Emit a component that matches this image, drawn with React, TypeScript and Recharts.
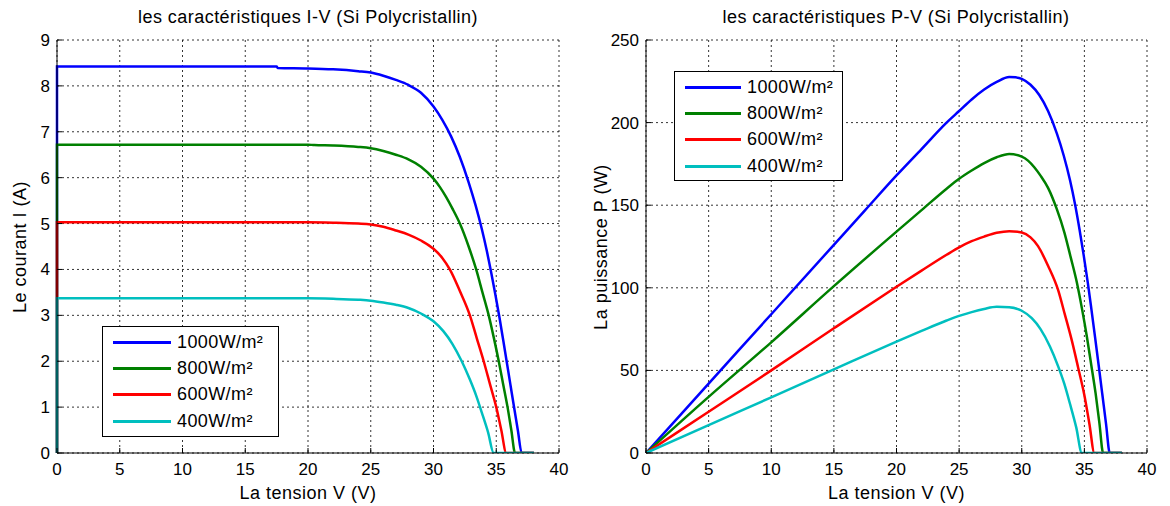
import React from "react";
import { LineChart, Line, XAxis, YAxis, CartesianGrid } from "recharts";

// irradiance levels (legend order)
const levels = ["1000W/m²", "800W/m²", "600W/m²", "400W/m²"];
const colors = ["#0000ff", "#008000", "#ff0000", "#00bfbf"];

const voltTicks = [0, 5, 10, 15, 20, 25, 30, 35, 40];
const currentTicks = [0, 1, 2, 3, 4, 5, 6, 7, 8, 9];
const powerTicks = [0, 50, 100, 150, 200, 250];

// I-V curves, [V, I]
const iv1000 = [
  [0, 0], [0, 8.42], [5, 8.42], [10, 8.42], [15, 8.42], [17.5, 8.42], [17.6, 8.39], [20, 8.38],
  [22, 8.36], [24, 8.32], [25, 8.29], [26, 8.22], [27, 8.13], [28, 8.02], [29, 7.85], [30, 7.55],
  [30.7, 7.26], [31.4, 6.9], [32.1, 6.45], [32.8, 5.9], [33.35, 5.4], [33.85, 4.88], [34.25, 4.4],
  [34.62, 3.9], [34.95, 3.42], [35.27, 2.93], [35.56, 2.45], [35.85, 1.96], [36.14, 1.47],
  [36.43, 0.98], [36.73, 0.48], [37.03, 0], [38, 0],
];
const iv800 = [
  [0, 0], [0, 6.72], [5, 6.72], [10, 6.72], [15, 6.72], [20, 6.72], [20.5, 6.71], [22, 6.7],
  [24, 6.67], [25, 6.64], [26, 6.58], [27, 6.5], [28, 6.4], [29, 6.24], [30, 5.98], [30.5, 5.8],
  [31, 5.58], [31.5, 5.33], [32.1, 5.0], [32.8, 4.5], [33.4, 4.0], [33.9, 3.5], [34.4, 3.0],
  [34.8, 2.52], [35.2, 2.0], [35.55, 1.5], [35.9, 1.0], [36.2, 0.5], [36.5, 0], [38, 0],
];
const iv600 = [
  [0, 0], [0, 5.03], [5, 5.03], [10, 5.03], [15, 5.03], [20, 5.03], [22, 5.02], [24, 5.0],
  [25, 4.98], [26, 4.93], [27, 4.85], [28, 4.76], [29, 4.63], [30, 4.45], [30.7, 4.25], [31.3, 4.0],
  [32.1, 3.53], [32.9, 3.0], [33.45, 2.5], [34, 2.0], [34.5, 1.5], [35, 1.0], [35.4, 0.5],
  [35.8, 0], [38, 0],
];
const iv400 = [
  [0, 0], [0, 3.37], [5, 3.37], [10, 3.37], [15, 3.37], [20, 3.37], [22, 3.36], [24, 3.34],
  [25, 3.32], [26, 3.28], [27, 3.23], [28, 3.16], [29, 3.04], [30, 2.87], [30.8, 2.65],
  [31.5, 2.38], [32.25, 2.0], [32.9, 1.6], [33.4, 1.25], [33.85, 0.88], [34.35, 0.45],
  [34.8, 0], [38, 0],
];

// P-V curves, [V, P]
const pv1000 = [
  [0, 0], [5, 42], [10, 84], [15, 126], [17.5, 147], [20, 168], [22, 184], [24, 200], [25, 207],
  [26, 214], [27, 220], [28, 224.6], [29, 227.6], [29.5, 227.4], [30, 226.5], [30.7, 222.9],
  [31.4, 216.7], [32.1, 207], [32.8, 193.5], [33.35, 180.1], [33.85, 165.2], [34.25, 150.7],
  [34.62, 135], [34.95, 119.5], [35.27, 103.3], [35.56, 87.1], [35.85, 70.3], [36.14, 53.1],
  [36.43, 35.7], [36.73, 17.6], [37.03, 0], [38, 0],
];
const pv800 = [
  [0, 0], [5, 34], [10, 67], [15, 101], [20, 134], [22, 147], [24, 160], [25, 166], [26, 171],
  [27, 175.5], [28, 179], [29, 181], [30, 179.4], [30.5, 177], [31, 173], [31.5, 167.9],
  [32.1, 160.5], [32.8, 147.6], [33.4, 133.6], [33.9, 118.7], [34.4, 103.2], [34.8, 87.7],
  [35.2, 70.4], [35.55, 53.3], [35.9, 35.9], [36.2, 18.1], [36.5, 0], [38, 0],
];
const pv600 = [
  [0, 0], [5, 25], [10, 50], [15, 75.5], [20, 100.6], [22, 110.4], [24, 120], [25, 124.5],
  [26, 128.2], [27, 131], [28, 133.3], [29, 134.3], [30, 133.5], [30.7, 130.5], [31.3, 125.2],
  [32.1, 113.3], [32.9, 98.7], [33.45, 83.6], [34, 68], [34.5, 51.8], [35, 35], [35.4, 17.7],
  [35.8, 0], [38, 0],
];
const pv400 = [
  [0, 0], [5, 16.9], [10, 33.7], [15, 50.6], [20, 67.4], [22, 73.9], [24, 80.2], [25, 83],
  [26, 85.3], [27, 87.2], [28, 88.5], [29, 88.2], [30, 86.1], [30.8, 81.6], [31.5, 75],
  [32.25, 64.5], [32.9, 52.6], [33.4, 41.8], [33.85, 29.8], [34.35, 15.5], [34.8, 0], [38, 0],
];

const ivSeries = [iv1000, iv800, iv600, iv400];
const pvSeries = [pv1000, pv800, pv600, pv400];

const FONT = "'Liberation Sans', Arial, Helvetica, sans-serif";
const tickStyle = { fill: "#000", fontSize: 17, fontFamily: FONT };

const toRows = (pts: number[][], key: string) => pts.map(([v, y]) => ({ v, [key]: y }));

function LegendBox({ left, top, width, height, lineW }: any) {
  return (
    <div
      style={{
        position: "absolute",
        left,
        top,
        width,
        height,
        border: "1px solid #000",
        background: "#fff",
        boxSizing: "border-box",
        fontFamily: FONT,
        fontSize: 18,
        letterSpacing: 0.4,
        paddingTop: 2,
      }}
    >
      {levels.map((name, i) => (
        <div key={name} style={{ display: "flex", alignItems: "center", height: 26.3, paddingLeft: 10 }}>
          <div style={{ width: lineW, height: 3, background: colors[i], marginRight: 6, flexShrink: 0 }} />
          <span>{name}</span>
        </div>
      ))}
    </div>
  );
}

function Panel({ series, keyName, yTicks, yMax, yWidth, right, xLabel }: any) {
  return (
    <LineChart width={585} height={506} margin={{ top: 40, right, bottom: 0, left: 0 }}>
      <CartesianGrid stroke="#000" strokeDasharray="2 3" strokeWidth={0.8} />
      <XAxis
        dataKey="v"
        type="number"
        domain={[0, 40]}
        ticks={voltTicks}
        height={53}
        stroke="#000"
        tick={tickStyle}
        tickSize={-5}
        tickMargin={15}
        label={{ value: xLabel, position: "insideBottom", offset: 7, fill: "#000", fontSize: 18, fontFamily: FONT, letterSpacing: 0.5 }}
      />
      <XAxis xAxisId="top" orientation="top" type="number" domain={[0, 40]} ticks={voltTicks} height={0} stroke="#000" tickSize={-5} tickFormatter={() => ""} />
      <YAxis
        type="number"
        domain={[0, yMax]}
        ticks={yTicks}
        width={yWidth}
        stroke="#000"
        tick={tickStyle}
        tickSize={-5}
        tickMargin={12}
        allowDataOverflow
      />
      <YAxis yAxisId="r" orientation="right" type="number" domain={[0, yMax]} ticks={yTicks} width={0} stroke="#000" tickSize={-5} tickFormatter={() => ""} />
      {series.map((pts: number[][], i: number) => (
        <Line
          key={levels[i]}
          data={toRows(pts, keyName)}
          dataKey={keyName}
          type="monotone"
          stroke={colors[i]}
          strokeWidth={2.5}
          dot={false}
          isAnimationActive={false}
        />
      ))}
    </LineChart>
  );
}

const titleStyle: any = {
  position: "absolute",
  top: 7,
  transform: "translateX(-50%)",
  whiteSpace: "nowrap",
  fontFamily: FONT,
  fontSize: 18,
  letterSpacing: 0.45,
  color: "#000",
};
const yLabelStyle: any = {
  position: "absolute",
  transform: "translate(-50%, -50%) rotate(-90deg)",
  whiteSpace: "nowrap",
  fontFamily: FONT,
  fontSize: 18,
  letterSpacing: 0.5,
  color: "#000",
};

export default function App() {
  return (
    <div style={{ position: "absolute", left: 0, top: 0, width: 1170, height: 506, background: "#fff" }}>
      <div style={{ position: "absolute", left: 0, top: 0 }}>
        <Panel series={ivSeries} keyName="i" yTicks={currentTicks} yMax={9} yWidth={57} right={26} xLabel="La tension V (V)" />
      </div>
      <div style={{ position: "absolute", left: 585, top: 0 }}>
        <Panel series={pvSeries} keyName="p" yTicks={powerTicks} yMax={250} yWidth={61} right={23} xLabel="La tension V (V)" />
      </div>
      <div style={{ ...titleStyle, left: 308 }}>les caractéristiques I-V (Si Polycristallin)</div>
      <div style={{ ...titleStyle, left: 896 }}>les caractéristiques P-V (Si Polycristallin)</div>
      <div style={{ ...yLabelStyle, left: 20, top: 247 }}>Le courant I (A)</div>
      <div style={{ ...yLabelStyle, left: 601, top: 247 }}>La puissance P (W)</div>
      <LegendBox left={102} top={326} width={177} height={111} lineW={58} />
      <LegendBox left={674} top={71} width={169} height={110} lineW={56} />
    </div>
  );
}
